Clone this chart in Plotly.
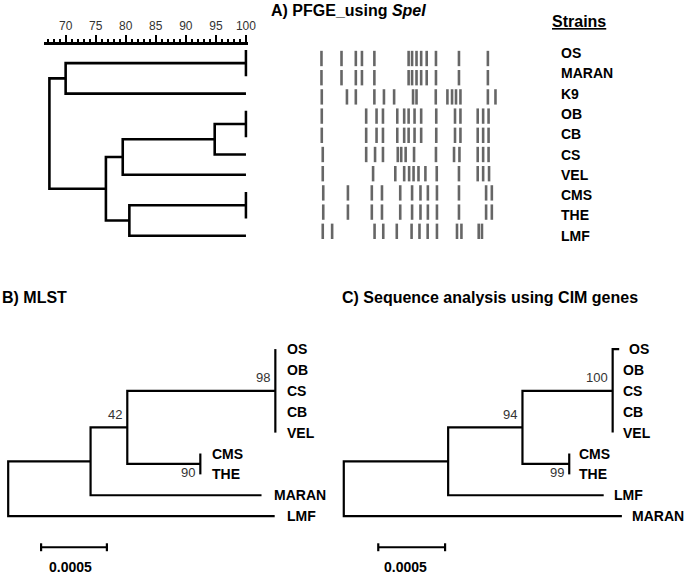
import plotly.graph_objects as go

W, H = 693, 574

# ---------------- Panel A: PFGE (SpeI) ----------------
pfge_strains = ["OS", "MARAN", "K9", "OB", "CB", "CS", "VEL", "CMS", "THE", "LMF"]
# (node, children, % similarity of the merge)
pfge_merges = [
    ("n1", ["OS", "MARAN"], 100.0),
    ("n2", ["OB", "CB"], 100.0),
    ("n3", ["CMS", "THE"], 100.0),
    ("n4", ["n2", "CS"], 94.8),
    ("n5", ["n4", "VEL"], 79.5),
    ("n6", ["n3", "LMF"], 80.6),
    ("n7", ["n1", "K9"], 70.0),
    ("n8", ["n5", "n6"], 76.7),
    ("n9", ["n7", "n8"], 67.3),
]
similarity_ticks = [70, 75, 80, 85, 90, 95, 100]

# band migration positions (arbitrary units from the well)
band_OS = [5.7, 26, 40.5, 46.7, 59.3, 94, 97.5, 102, 106.7, 112.3, 121.7, 145, 174.3]
band_MARAN = [5.7, 26, 40.5, 46.7, 59.3, 94, 97.5, 102, 106.7, 112.3, 121.7, 145, 174.3]
band_K9 = [6, 31.5, 40.5, 59.3, 69, 79.3, 98.5, 102, 121.5, 133.3, 138, 142, 146.5, 174.3, 182]
band_OB = [6, 51, 61.5, 68, 82.5, 89.5, 94, 100, 106.7, 122, 141, 146.5, 164, 169.5, 175]
band_CB = [6, 51, 61.5, 68, 82.5, 89.5, 94, 100, 106.7, 122, 141, 146.5, 164, 169.5, 175]
band_CS = [7, 51, 60, 68, 83, 86.5, 91, 99.5, 121.7, 140, 145.5, 164, 169.5, 175]
band_VEL = [7, 58, 80.5, 89.5, 94.5, 99, 104, 111, 122.5, 145, 164, 169.5, 175.5]
band_CMS = [7.5, 32.5, 56.7, 67, 85.5, 97.5, 106, 113.5, 122.7, 145, 172.5, 178.3]
band_THE = [7.5, 32.5, 56.7, 67, 85.5, 97.5, 106, 113.5, 122.7, 145, 172.5, 178.3]
band_LMF = [7, 16.5, 59.5, 68.3, 82, 97, 105, 113.3, 122.7, 143, 147.5, 165, 168.3]
pfge_bands = [band_OS, band_MARAN, band_K9, band_OB, band_CB, band_CS,
              band_VEL, band_CMS, band_THE, band_LMF]

# ---------------- Panel B: MLST tree ----------------
mlst_order = ["OS", "OB", "CS", "CB", "VEL", "CMS", "THE", "MARAN", "LMF"]
mlst_tip_depth = [0.00203, 0.00203, 0.00203, 0.00203, 0.00203, 0.00146, 0.00146, 0.001925, 0.002025]
mlst_merges = [
    ("b98", ["OS", "OB", "CS", "CB", "VEL"], 0.00203, "98"),
    ("b90", ["CMS", "THE"], 0.00146, "90"),
    ("b42", ["b98", "b90"], 0.000905, "42"),
    ("bA", ["b42", "MARAN"], 0.000626, ""),
    ("bR", ["bA", "LMF"], 0.0, ""),
]

# ---------------- Panel C: CIM genes tree ----------------
cim_order = ["OS", "OB", "CS", "CB", "VEL", "CMS", "THE", "LMF", "MARAN"]
cim_tip_depth = [0.002061, 0.002012, 0.002012, 0.002012, 0.002012, 0.001687, 0.001687, 0.001945, 0.002081]
cim_merges = [
    ("c100", ["OS", "OB", "CS", "CB", "VEL"], 0.002012, "100"),
    ("c99", ["CMS", "THE"], 0.001687, "99"),
    ("c94", ["c100", "c99"], 0.001337, "94"),
    ("cX", ["c94", "LMF"], 0.000781, ""),
    ("cR", ["cX", "MARAN"], 0.0, ""),
]
scale_bar_length = 0.0005
boot_place = {"98": "above", "42": "above", "90": "below",
              "100": "above", "94": "above", "99": "below"}


def tree_paths(order, tip_x, merges, end_ext=0.0):
    pos = {n: (tip_x[i], float(i)) for i, n in enumerate(order)}
    xs, ys = [], []
    for m in merges:
        name, kids, h = m[0], m[1], m[2]
        ks = sorted(kids, key=lambda k: pos[k][1])
        first, last = pos[ks[0]], pos[ks[-1]]
        if end_ext and all(pos[k][0] == h for k in ks):
            xs += [h, h, None]
            ys += [first[1] - end_ext, last[1] + end_ext, None]
        else:
            xs += [first[0], h, h, last[0], None]
            ys += [first[1], first[1], last[1], last[1], None]
        for k in ks[1:-1]:
            if pos[k][0] != h:
                xs += [pos[k][0], h, None]
                ys += [pos[k][1], pos[k][1], None]
        pos[name] = (h, sum(pos[k][1] for k in ks) / len(ks))
    return xs, ys, pos


def lin_range(p0, v0, scale, npx, reverse=False):
    # value v maps to pixel p0 + (v - v0) * scale over [0, npx]
    a = v0 + (0 - p0) / scale
    b = v0 + (npx - p0) / scale
    return [b, a] if reverse else [a, b]


fig = go.Figure()
FONT = "Liberation Sans, Arial, sans-serif"
annos = []

# ---- Panel A dendrogram
ax_, ay_, apos = tree_paths(pfge_strains, [100.0] * len(pfge_strains), pfge_merges, end_ext=0.15)
fig.add_trace(go.Scatter(x=ax_, y=ay_, mode="lines", xaxis="x", yaxis="y",
                         line=dict(color="black", width=2.6), hoverinfo="skip"))

# ---- Panel A bands (each band a short vertical stroke in its lane)
bx, by = [], []
for i, bands in enumerate(pfge_bands):
    for b in bands:
        bx += [b, b, None]
        by += [i - 0.4, i + 0.4, None]
fig.add_trace(go.Scatter(x=bx, y=by, mode="lines", xaxis="x2", yaxis="y2",
                         line=dict(color="rgba(75,75,75,0.85)", width=2.6), hoverinfo="skip"))

for i, s in enumerate(pfge_strains):
    annos.append(dict(x=566 / W, xref="paper", y=i, yref="y", text="<b>%s</b>" % s,
                      showarrow=False, xanchor="left", yanchor="middle",
                      font=dict(family=FONT, size=14, color="black")))


def draw_tree(order, tips, merges, xa, ya, label_shift):
    xs, ys, pos = tree_paths(order, tips, merges)
    fig.add_trace(go.Scatter(x=xs, y=ys, mode="lines", xaxis=xa, yaxis=ya,
                             line=dict(color="black", width=2.2), hoverinfo="skip"))
    xr = "x" + xa[1:]
    yr = "y" + ya[1:]
    for i, s in enumerate(order):
        annos.append(dict(x=tips[i], xref=xr, y=i, yref=yr, text="<b>%s</b>" % s,
                          showarrow=False, xanchor="left", yanchor="middle", xshift=label_shift,
                          font=dict(family=FONT, size=14, color="black")))
    for m in merges:
        if m[3]:
            nx, ny = pos[m[0]]
            up = boot_place[m[3]] == "above"
            annos.append(dict(x=nx, xref=xr, y=ny, yref=yr, text=m[3], showarrow=False,
                              xanchor="right", yanchor="middle", xshift=-3,
                              yshift=13 if up else -9,
                              font=dict(family=FONT, size=13, color="#333")))


draw_tree(mlst_order, mlst_tip_depth, mlst_merges, "x3", "y3", 10)
draw_tree(cim_order, cim_tip_depth, cim_merges, "x4", "y3", 8)

# scale bars
for xa, start, lshift in (("x3", 0.00025, -3), ("x4", 0.000258, -6)):
    sx = [start, start + scale_bar_length]
    fig.add_trace(go.Scatter(
        x=[sx[0], sx[1], None, sx[0], sx[0], None, sx[1], sx[1]],
        y=[9.49, 9.49, None, 9.30, 9.68, None, 9.30, 9.68],
        mode="lines", xaxis=xa, yaxis="y3",
        line=dict(color="black", width=2.2), hoverinfo="skip"))
    annos.append(dict(x=(sx[0] + sx[1]) / 2, xref=xa, y=10.43, yref="y3",
                      text="<b>%s</b>" % scale_bar_length, showarrow=False, xshift=lshift,
                      xanchor="center", yanchor="middle",
                      font=dict(family=FONT, size=14, color="black")))

# titles
title_font = dict(family=FONT, size=16, color="black")
annos += [
    dict(x=273 / W, y=1 - 11 / H, xref="paper", yref="paper", xanchor="left", yanchor="middle",
         text="<b>A) PFGE_using <i>SpeI</i></b>", showarrow=False, font=title_font),
    dict(x=557 / W, y=1 - 21 / H, xref="paper", yref="paper", xanchor="left", yanchor="middle",
         text="<b><u>Strains</u></b>", showarrow=False, font=title_font),
    dict(x=0 / W, y=1 - 297 / H, xref="paper", yref="paper", xanchor="left", yanchor="middle",
         text="<b>B) MLST</b>", showarrow=False, font=title_font),
    dict(x=344 / W, y=1 - 297 / H, xref="paper", yref="paper", xanchor="left", yanchor="middle",
         text="<b>C) Sequence analysis using CIM genes</b>", showarrow=False, font=title_font),
]

hidden = dict(visible=False, showgrid=False, zeroline=False, fixedrange=True)
fig.update_layout(
    width=W, height=H, margin=dict(l=0, r=0, t=0, b=0),
    paper_bgcolor="white", plot_bgcolor="rgba(0,0,0,0)", showlegend=False,
    xaxis=dict(domain=[45 / W, 251 / W], range=[70 + (45 - 66.5) / 6.09, 70 + (251 - 66.5) / 6.09],
               anchor="free", position=1 - 43 / H, side="top",
               showline=True, linewidth=2.5, linecolor="black",
               ticks="outside", ticklen=7, tickwidth=2, tickcolor="black",
               tickmode="array", tickvals=similarity_ticks,
               minor=dict(ticks="outside", dtick=1, tick0=70, ticklen=3.5, tickwidth=1.5, tickcolor="black"),
               showgrid=False, zeroline=False, fixedrange=True,
               tickfont=dict(family=FONT, size=12, color="#333")),
    yaxis=dict(domain=[0, 1], range=lin_range(53, 0, 20.3, H, reverse=True), anchor="free", position=0, **hidden),
    xaxis2=dict(domain=[0, 1], range=lin_range(320, 0, 1.0, W), anchor="y2", **hidden),
    yaxis2=dict(domain=[0, 1], range=lin_range(58.5, 0, 19.2, H, reverse=True), anchor="x2", **hidden),
    xaxis3=dict(domain=[0, 1], range=lin_range(8.3, 0, 133333, W), anchor="y3", **hidden),
    yaxis3=dict(domain=[0, 1], range=lin_range(349.1, 0, 20.88, H, reverse=True), anchor="x3", **hidden),
    xaxis4=dict(domain=[0, 1], range=lin_range(348.3, 0, 135400, W), anchor="y3", **hidden),
    annotations=annos,
)

fig.write_html("out.html", config={"displayModeBar": False},
               post_script="document.body.style.margin='0';document.body.style.overflow='hidden';")
